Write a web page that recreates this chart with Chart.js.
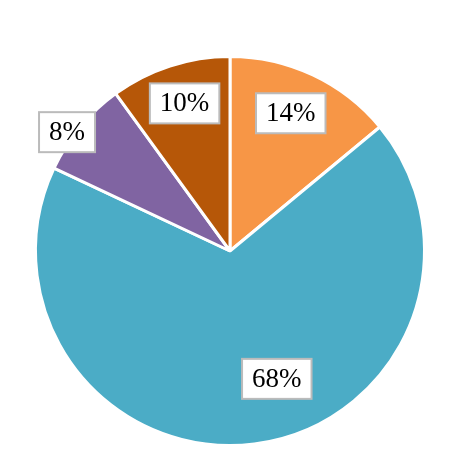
<!DOCTYPE html>
<html>
<head>
<meta charset="utf-8">
<script src="https://cdn.jsdelivr.net/npm/chart.js@4/dist/chart.umd.min.js"></script>
<style>
  html, body { margin: 0; padding: 0; background: #fff; }
  #wrap { width: 456px; height: 456px; }
</style>
</head>
<body>
<div id="wrap"><canvas id="chartPie"></canvas></div>
<script>
// Datos del gráfico
const categorias = ['A', 'B', 'C', 'D'];
const valores = [14, 68, 8, 10];
const colores = ['#F79646', '#4BACC6', '#8064A2', '#B65708'];

// Colocación de etiquetas: fracción del radio y desvío angular (grados) respecto al centro del sector
const posEtiquetas = [
    { r: 0.774, da: -1.4 },
    { r: 0.70, da: -12.9 },
    { r: 1.037, da: -3.5 },
    { r: 0.794, da: 0.9 }
];

const etiquetasCaja = {
    id: 'etiquetasCaja',
    afterDatasetsDraw(chart) {
        const ctx = chart.ctx;
        const meta = chart.getDatasetMeta(0);
        const total = valores.reduce((a, b) => a + b, 0);
        ctx.save();
        ctx.font = '27px "Liberation Serif", serif';
        ctx.textAlign = 'center';
        ctx.textBaseline = 'middle';
        meta.data.forEach((arc, i) => {
            const p = arc.getProps(['x', 'y', 'startAngle', 'endAngle', 'outerRadius'], true);
            const ang = (p.startAngle + p.endAngle) / 2 + posEtiquetas[i].da * Math.PI / 180;
            const rr = p.outerRadius * posEtiquetas[i].r;
            const cx = p.x + Math.cos(ang) * rr;
            const cy = p.y + Math.sin(ang) * rr;
            const txt = Math.round(valores[i] / total * 100) + '%';
            const w = ctx.measureText(txt).width + 20;
            const h = 40;
            ctx.fillStyle = '#ffffff';
            ctx.fillRect(cx - w / 2, cy - h / 2, w, h);
            ctx.strokeStyle = '#bbbbbb';
            ctx.lineWidth = 2;
            ctx.strokeRect(cx - w / 2, cy - h / 2, w, h);
            ctx.fillStyle = '#000000';
            ctx.fillText(txt, cx, cy + 1);
        });
        ctx.restore();
    }
};

new Chart(document.getElementById('chartPie').getContext('2d'), {
    type: 'pie',
    data: {
        labels: categorias,
        datasets: [{
            data: valores,
            backgroundColor: colores,
            borderColor: '#ffffff',
            borderWidth: 3
        }]
    },
    options: {
        responsive: true,
        maintainAspectRatio: false,
        animation: false,
        layout: { padding: { left: 34, top: 55, right: 30, bottom: 9 } },
        plugins: { legend: { display: false }, tooltip: { enabled: false } }
    },
    plugins: [etiquetasCaja]
});
</script>
</body>
</html>
